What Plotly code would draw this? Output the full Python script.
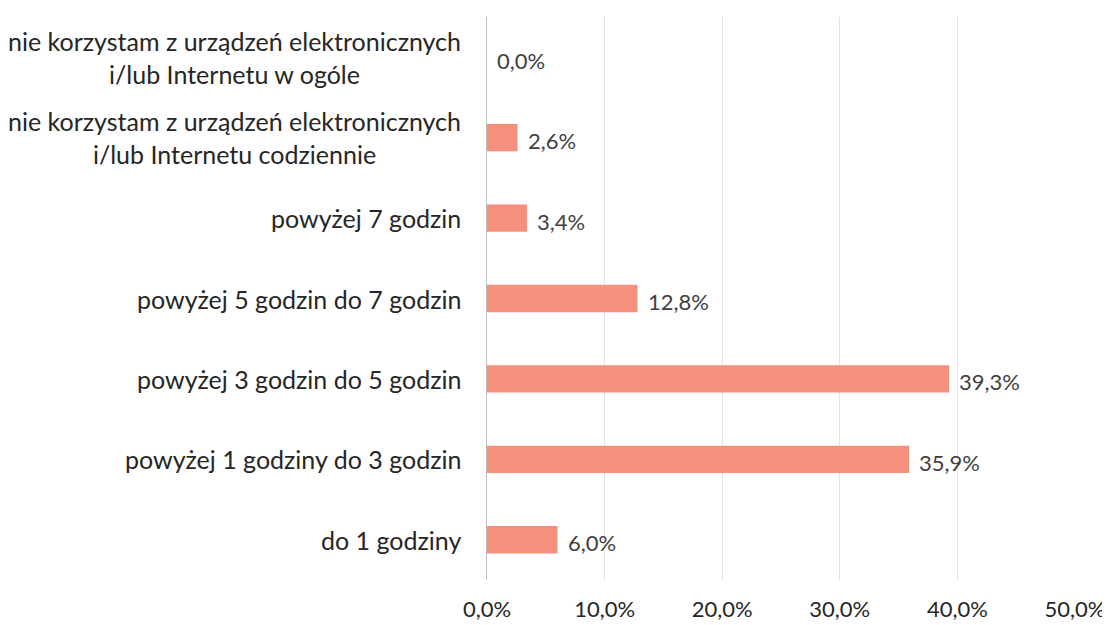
import plotly.graph_objects as go

categories = [
    "do 1 godziny",
    "powyżej 1 godziny do 3 godzin",
    "powyżej 3 godzin do 5 godzin",
    "powyżej 5 godzin do 7 godzin",
    "powyżej 7 godzin",
    "nie korzystam z urządzeń elektronicznych<br>i/lub Internetu codziennie",
    "nie korzystam z urządzeń elektronicznych<br>i/lub Internetu w ogóle",
]
values = [6.0, 35.9, 39.3, 12.8, 3.4, 2.6, 0.0]
x_ticks = [0, 10, 20, 30, 40, 50]
x_tick_labels = ["0,0%", "10,0%", "20,0%", "30,0%", "40,0%", "50,0%"]

FONT = "Lato, 'Open Sans', sans-serif"
TEXT = "#262626"

fig = go.Figure(
    go.Bar(
        x=values,
        y=list(range(len(categories))),
        orientation="h",
        width=0.34,
        marker=dict(color="#F4907C", line=dict(width=0)),
        hoverinfo="x",
    )
)

# category labels as annotations so two-line labels stay centred
for i, cat in enumerate(categories):
    fig.add_annotation(
        x=0, xref="paper", y=i, yref="y",
        text=cat, showarrow=False,
        xanchor="right", yanchor="middle", xshift=-24,
        align="center",
        font=dict(family=FONT, size=25, color=TEXT),
    )

# value labels
for i, v in enumerate(values):
    fig.add_annotation(
        x=v, xref="x", y=i, yref="y",
        text=f"{v:.1f}%".replace(".", ","), showarrow=False,
        xanchor="left", yanchor="middle", xshift=8, yshift=-3,
        font=dict(family=FONT, size=22, color="#404040"),
    )

# page body adds ~8px margin, so the figure is a bit smaller than the window
fig.update_layout(
    width=1102,
    height=617,
    paper_bgcolor="white",
    plot_bgcolor="white",
    showlegend=False,
    margin=dict(l=479, r=35, t=9, b=45, autoexpand=False),
    xaxis=dict(
        range=[0, 50],
        tickvals=x_ticks,
        ticktext=x_tick_labels,
        automargin=False,
        showgrid=True,
        gridcolor="#e2e2e2",
        gridwidth=1,
        zeroline=False,
        showline=False,
        ticks="",
        ticklabelstandoff=14,
        tickfont=dict(family=FONT, size=22, color=TEXT),
    ),
    yaxis=dict(
        range=[-0.5, len(categories) - 0.5],
        automargin=False,
        showticklabels=False,
        showgrid=False,
        zeroline=False,
        showline=True,
        linecolor="#bfbfbf",
        linewidth=1,
        ticks="",
    ),
)

fig.write_html("out.html")
